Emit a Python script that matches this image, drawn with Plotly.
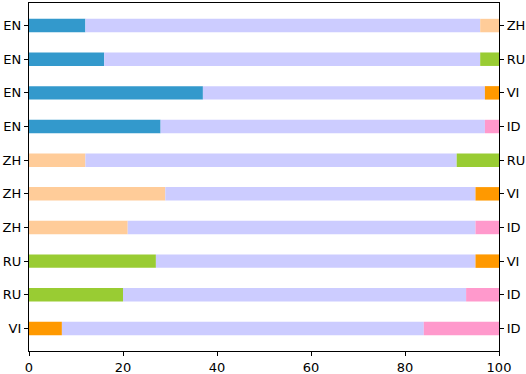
import plotly.graph_objects as go

# language pairs, top to bottom
left_lang = ['EN', 'EN', 'EN', 'EN', 'ZH', 'ZH', 'ZH', 'RU', 'RU', 'VI']
right_lang = ['ZH', 'RU', 'VI', 'ID', 'RU', 'VI', 'ID', 'VI', 'ID', 'ID']
left_pct = [12, 16, 37, 28, 12, 29, 21, 27, 20, 7]
right_pct = [4, 4, 3, 3, 9, 5, 5, 5, 7, 16]
x_ticks = [0, 20, 40, 60, 80, 100]

colors = {'EN': '#3399CC', 'ZH': '#FFCC99', 'RU': '#99CC33',
          'VI': '#FF9900', 'ID': '#FF99CC'}
mid_color = '#CCCCFF'

rows = list(range(len(left_lang)))
mid_pct = [100 - a - b for a, b in zip(left_pct, right_pct)]
mid_base = left_pct
right_base = [a + m for a, m in zip(left_pct, mid_pct)]

fig = go.Figure()
fig.add_trace(go.Bar(y=rows, x=left_pct, base=[0] * len(rows), orientation='h', width=0.4,
                     marker=dict(color=[colors[l] for l in left_lang], line=dict(width=0))))
fig.add_trace(go.Bar(y=rows, x=mid_pct, base=mid_base, orientation='h', width=0.4,
                     marker=dict(color=mid_color, line=dict(width=0))))
fig.add_trace(go.Bar(y=rows, x=right_pct, base=right_base, orientation='h', width=0.4,
                     marker=dict(color=[colors[l] for l in right_lang], line=dict(width=0))))
# invisible trace so the right-hand axis gets drawn
fig.add_trace(go.Scatter(y=rows, x=[50] * len(rows), yaxis='y2', mode='markers',
                         marker=dict(opacity=0), hoverinfo='skip'))

yrange = [9.67, -0.67]
fig.update_layout(
    width=526, height=374,
    margin=dict(l=29, r=27, t=3, b=23),
    paper_bgcolor='white', plot_bgcolor='white',
    showlegend=False, barmode='overlay',
    font=dict(family='DejaVu Sans', size=13, color='black'),
    xaxis=dict(range=[0, 100], tickvals=x_ticks, showgrid=False, zeroline=False,
               showline=True, linecolor='black', linewidth=1.2, mirror=True,
               ticks='outside', ticklen=4, tickcolor='black', automargin=False),
    yaxis=dict(range=yrange, tickvals=rows, ticktext=left_lang, showgrid=False,
               zeroline=False, showline=True, linecolor='black', linewidth=1.2,
               ticks='outside', ticklen=4, tickcolor='black', automargin=False),
    yaxis2=dict(range=yrange, tickvals=rows, ticktext=right_lang, overlaying='y',
                side='right', showgrid=False, zeroline=False, showline=True,
                linecolor='black', linewidth=1.2, ticks='outside', ticklen=4,
                tickcolor='black', automargin=False),
)

# drop the browser's default 8px body margin so the figure sits at the page corner
fig.write_html("out.html", config={'displayModeBar': False},
               post_script="document.body.style.margin='0px';")
